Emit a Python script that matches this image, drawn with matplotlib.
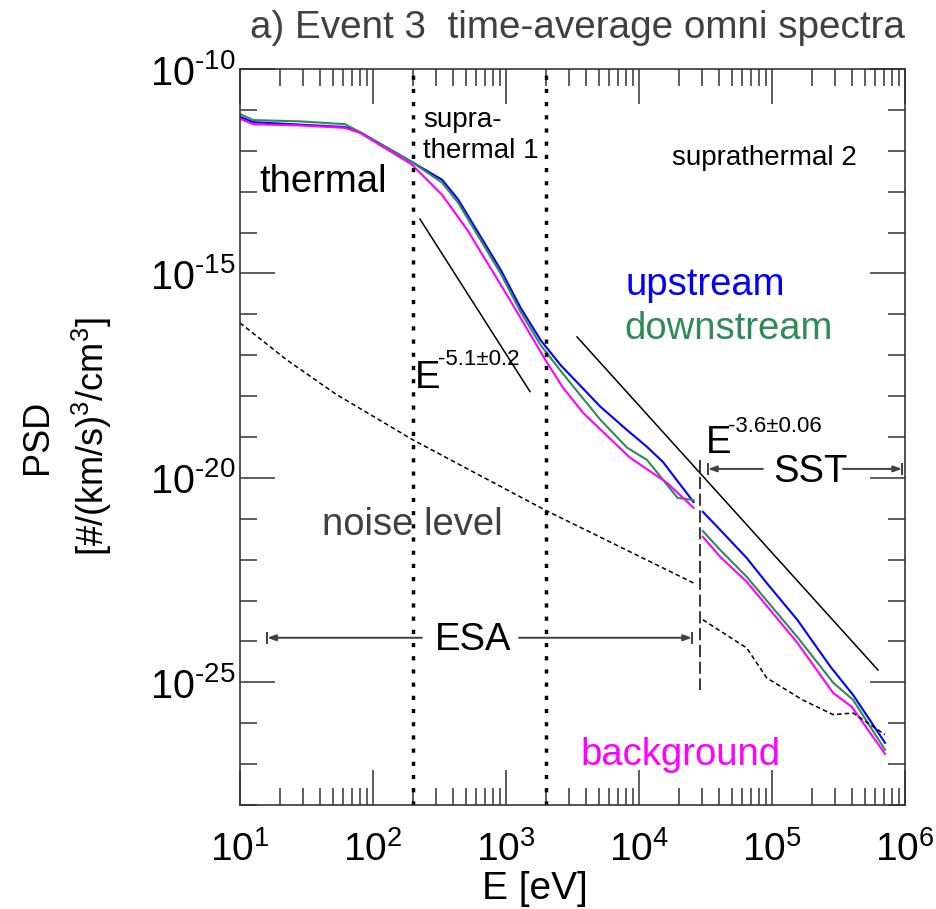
import numpy as np
import matplotlib.pyplot as plt
from matplotlib.ticker import FixedLocator, FixedFormatter, NullFormatter

plt.rcParams['font.family'] = ['Liberation Sans', 'DejaVu Sans']
plt.rcParams['mathtext.fontset'] = 'custom'
plt.rcParams['mathtext.rm'] = 'Liberation Sans'
plt.rcParams['mathtext.it'] = 'Liberation Sans:italic'
plt.rcParams['mathtext.bf'] = 'Liberation Sans:bold'

# --- data (log10 E [eV], log10 PSD) ---
# ESA range
up_esa_logE = [1.00, 1.10, 1.45, 1.79, 1.90, 2.29, 2.52, 2.64, 2.96, 3.11, 3.26, 3.41, 3.71, 3.91, 4.06, 4.18, 4.41]
up_esa_logf = [-11.17, -11.30, -11.36, -11.42, -11.54, -12.27, -12.71, -13.19, -14.91, -15.84, -16.63, -17.24, -18.26, -18.83, -19.24, -19.61, -20.59]
dn_esa_logE = [1.00, 1.10, 1.45, 1.79, 1.90, 2.29, 2.52, 2.64, 2.96, 3.11, 3.26, 3.41, 3.71, 3.91, 4.06, 4.29, 4.41]
dn_esa_logf = [-11.10, -11.25, -11.28, -11.35, -11.54, -12.27, -12.78, -13.27, -15.00, -15.94, -16.75, -17.38, -18.58, -19.26, -19.56, -20.49, -20.54]
bg_esa_logE = [1.00, 1.10, 1.45, 1.79, 1.90, 2.29, 2.52, 2.71, 3.03, 3.31, 3.43, 3.58, 3.93, 4.21, 4.41]
bg_esa_logf = [-11.22, -11.35, -11.38, -11.44, -11.56, -12.33, -13.08, -13.94, -15.65, -17.19, -17.80, -18.41, -19.50, -20.12, -20.73]
noise_esa_logE = [1.00, 1.35, 1.72, 2.02, 2.30, 3.29, 4.41]
noise_esa_logf = [-16.21, -17.11, -17.95, -18.53, -19.07, -20.78, -22.57]

# SST range
up_sst_logE = [4.48, 4.61, 4.81, 4.96, 5.19, 5.44, 5.61, 5.85]
up_sst_logf = [-20.83, -21.27, -21.96, -22.57, -23.47, -24.62, -25.31, -26.48]
dn_sst_logE = [4.48, 4.61, 4.81, 5.19, 5.46, 5.61, 5.85]
dn_sst_logf = [-21.30, -21.76, -22.42, -23.89, -25.01, -25.43, -26.65]
bg_sst_logE = [4.48, 4.61, 4.81, 5.19, 5.46, 5.60, 5.85]
bg_sst_logf = [-21.44, -21.93, -22.54, -24.03, -25.26, -25.60, -26.75]
noise_sst_logE = [4.48, 4.81, 4.96, 5.23, 5.46, 5.61, 5.85]
noise_sst_logf = [-23.47, -24.16, -24.89, -25.43, -25.79, -25.75, -26.28]

# power-law fits: (index, log10 amplitude, logE start, logE end)
fit_supra1 = (-5.1, -1.67, 2.353, 3.18)
fit_supra2 = (-3.6, -3.83, 3.534, 5.797)

E_bounds = [200, 2000]      # suprathermal 1 limits [eV]
E_esa_sst = 2.9e4           # ESA / SST boundary [eV]
esa_range = [16, 2.5e4]
sst_range = [3.3e4, 9.5e5]

c_up = '#0000ff'
c_dn = '#2e8b57'
c_bg = '#ff00ff'
c_txt = '#404040'

fig = plt.figure(figsize=(9.37, 9.09), dpi=100)
ax = fig.add_axes([240/937, 104/909, 665/937, 736/909])


def p(v):
    return np.power(10.0, np.asarray(v))


for lE, lf, c in [(up_esa_logE, up_esa_logf, c_up), (dn_esa_logE, dn_esa_logf, c_dn),
                  (bg_esa_logE, bg_esa_logf, c_bg), (up_sst_logE, up_sst_logf, c_up),
                  (dn_sst_logE, dn_sst_logf, c_dn), (bg_sst_logE, bg_sst_logf, c_bg)]:
    ax.plot(p(lE), p(lf), color=c, lw=1.5)

for lE, lf in [(noise_esa_logE, noise_esa_logf), (noise_sst_logE, noise_sst_logf)]:
    ax.plot(p(lE), p(lf), color='k', lw=1.1, ls=(0, (3, 2)))

for idx, lA, a, b in [fit_supra1, fit_supra2]:
    e = np.logspace(a, b, 20)
    ax.plot(e, 10**lA * e**idx, color='k', lw=1.1)

for eb in E_bounds:
    ax.axvline(eb, color='k', lw=2.5, ls=(0, (1.2, 2.6)))
ax.plot([E_esa_sst, E_esa_sst], [p(-19.56), p(-25.18)], color='k', lw=1.1, ls=(0, (8, 3)))

ax.set_xscale('log')
ax.set_yscale('log')
ax.set_xlim(10, 1e6)
ax.set_ylim(1e-28, 1e-10)

# ticks
ax.xaxis.set_major_locator(FixedLocator([10.0**k for k in range(1, 7)]))
ax.xaxis.set_major_formatter(FixedFormatter([r'$\mathregular{10^{%d}}$' % k for k in range(1, 7)]))
ax.xaxis.set_minor_locator(FixedLocator([m * 10.0**k for k in range(1, 6) for m in range(2, 10)]))
ax.xaxis.set_minor_formatter(NullFormatter())
ax.yaxis.set_major_locator(FixedLocator([1e-25, 1e-20, 1e-15, 1e-10]))
ax.yaxis.set_major_formatter(FixedFormatter(['$\\mathregular{10^{\u2010%d}}$' % k for k in (25, 20, 15, 10)]))
ax.yaxis.set_minor_locator(FixedLocator([10.0**k for k in range(-28, -10) if k % 5 != 0]))
ax.yaxis.set_minor_formatter(NullFormatter())
ax.tick_params(which='both', direction='in', top=True, right=True, width=1.1, color='#333333')
ax.tick_params(which='major', length=25, labelsize=28.5)
ax.tick_params(which='minor', length=12)
ax.tick_params(axis='x', which='major', labelsize=28, pad=19)
ax.tick_params(axis='y', which='major', pad=3)
for s in ax.spines.values():
    s.set_linewidth(1.2)
    s.set_color('#333333')

# annotations
fs = 27.5
ax.text(13.9, p(-13.01), 'thermal', fontsize=fs, va='baseline')
ax.text(238, p(-11.42), 'supra-', fontsize=20, va='baseline')
ax.text(238, p(-12.18), 'thermal 1', fontsize=20, va='baseline')
ax.text(1.77e4, p(-12.35), 'suprathermal 2', fontsize=20, va='baseline')
ax.text(7850, p(-15.53), 'upstream', fontsize=fs, color=c_up, va='baseline')
ax.text(7710, p(-16.60), 'downstream', fontsize=fs, color=c_dn, va='baseline')
ax.text(41.4, p(-21.39), 'noise level', fontsize=fs, color=c_txt, va='baseline')
ax.text(3660, p(-27.02), 'background', fontsize=fs, color=c_bg, va='baseline')


def power_label(x, y, sup, dx, dy):
    ax.text(x, y, 'E', fontsize=fs, va='baseline')
    ax.annotate(sup, xy=(x, y), xytext=(dx, dy), textcoords='offset pixels',
                fontsize=16, va='baseline')


power_label(207, p(-17.80), '-5.1\u00b10.2', 23, 23)
power_label(3.19e4, p(-19.39), '-3.6\u00b10.06', 22, 21)


def range_arrow(e0, e1, ein0, ein1, y, label, lx, ly):
    ap = dict(arrowstyle='-|>,head_length=0.5,head_width=0.18', color=c_txt, lw=1.4,
              shrinkA=0, shrinkB=0)
    ax.annotate('', xy=(e0, y), xytext=(ein0, y), arrowprops=ap)
    ax.annotate('', xy=(e1, y), xytext=(ein1, y), arrowprops=ap)
    ax.plot([e0, e1], [y, y], ls='none', marker='|', ms=9, mew=1.4, color=c_txt)
    ax.text(lx, ly, label, fontsize=fs, va='baseline')


range_arrow(esa_range[0], esa_range[1], 233, 1254, p(-23.91), 'ESA', 292, p(-24.21))
range_arrow(sst_range[0], sst_range[1], 8.55e4, 3.42e5, p(-19.78), 'SST', 1.02e5, p(-20.10))

fig.text(250/937, 1 - 38/909, 'a) Event 3  time-average omni spectra', fontsize=27.8,
         color=c_txt, va='baseline')
fig.text(535/937, 1 - 899/909, 'E [eV]', fontsize=28, ha='center', va='baseline')
fig.text(37/937, 1 - 437/909, 'PSD', fontsize=26, rotation=90, ha='center', va='center')
fig.text(92/937, 1 - 437/909, r'[#/(km/s)$^\mathregular{3}$/cm$^\mathregular{3}$]', fontsize=26,
         rotation=90, ha='center', va='center')

fig.savefig('out.png', dpi=100)
